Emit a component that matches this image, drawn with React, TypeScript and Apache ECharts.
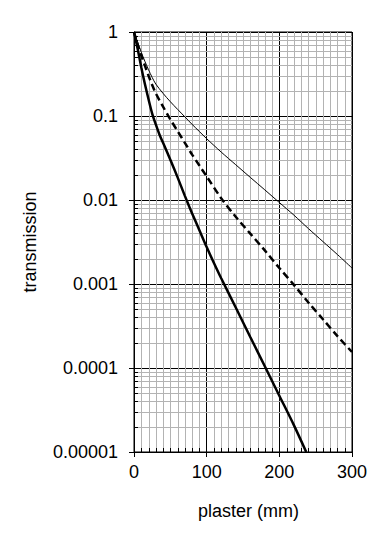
import React, { useEffect, useRef } from "react";
import * as echarts from "echarts";

// plaster thickness (mm)
const thinX = [0, 5, 10, 15, 20, 25, 30, 40, 50, 60, 70, 80, 90, 100, 120, 140, 160, 180, 200, 220, 240, 260, 280, 300];
const thinT = [1, 0.759, 0.575, 0.447, 0.355, 0.288, 0.24, 0.186, 0.148, 0.12, 0.0977, 0.0794, 0.0653, 0.0537, 0.0372, 0.0263, 0.0186, 0.0132, 0.00933, 0.00661, 0.00457, 0.0032, 0.00224, 0.00155];

const dashX = [0, 5, 10, 15, 20, 25, 30, 40, 50, 60, 70, 80, 90, 100, 120, 140, 160, 180, 200, 220, 240, 260, 280, 300];
const dashT = [1, 0.708, 0.525, 0.398, 0.302, 0.234, 0.186, 0.129, 0.0912, 0.0661, 0.0479, 0.0347, 0.0257, 0.0191, 0.0105, 0.00631, 0.00398, 0.00251, 0.00155, 0.000977, 0.000603, 0.00038, 0.00024, 0.000155];

const thickX = [0, 5, 10, 15, 20, 25, 30, 35, 40, 50, 60, 70, 80, 90, 100, 110, 120, 140, 160, 180, 200, 220, 237];
const thickT = [1, 0.631, 0.38, 0.24, 0.158, 0.107, 0.0794, 0.0603, 0.0479, 0.0302, 0.0186, 0.0112, 0.00692, 0.00437, 0.00275, 0.00178, 0.00117, 0.000525, 0.000234, 0.000105, 0.0000468, 0.0000209, 0.00001];

const yTickLabels = ["0.00001", "0.0001", "0.001", "0.01", "0.1", "1"];

const X_MIN = 0;
const X_MAX = 300;
const Y_MIN = 0.00001;
const Y_MAX = 1;

// minor grid positions (axis structure)
const minorX: number[] = [];
for (let v = X_MIN + 10; v < X_MAX; v += 10) if (v % 100 !== 0) minorX.push(v);
const minorY: number[] = [];
for (let e = -5; e < 0; e++) for (let m = 2; m <= 9; m++) minorY.push(m * Math.pow(10, e));

const GRAY = "#b3b3b3";
const FONT = "Liberation Sans, Arial, sans-serif";
const FS = 18;

export default function App() {
  const ref = useRef<HTMLDivElement>(null);
  useEffect(() => {
    if (!ref.current) return;
    const chart = echarts.init(ref.current, undefined, { renderer: "svg" });
    const zip = (xs: number[], ys: number[]) => xs.map((x, i) => [x, ys[i]]);
    chart.setOption({
      animation: false,
      backgroundColor: "#fff",
      grid: {
        left: 134,
        top: 32,
        width: 218,
        height: 420,
        show: true,
        borderColor: "#000",
        borderWidth: 1,
        backgroundColor: "transparent",
      },
      xAxis: {
        type: "value",
        min: X_MIN,
        max: X_MAX,
        interval: 100,
        name: "plaster (mm)",
        nameLocation: "middle",
        nameGap: 50,
        nameTextStyle: { fontFamily: FONT, fontSize: FS, color: "#000", padding: [0, 0, 0, 11] },
        axisLine: { lineStyle: { color: "#000", width: 1 } },
        axisTick: { show: true, length: 5, lineStyle: { color: "#000" } },
        axisLabel: { fontFamily: FONT, fontSize: FS, color: "#000", margin: 11 },
        splitLine: { show: true, lineStyle: { color: "#000", width: 1 } },
      },
      yAxis: {
        type: "log",
        logBase: 10,
        min: Y_MIN,
        max: Y_MAX,
        name: "transmission",
        nameLocation: "middle",
        nameGap: 95,
        nameTextStyle: { fontFamily: FONT, fontSize: FS, color: "#000" },
        axisLine: { show: true, lineStyle: { color: "#000", width: 1 } },
        axisTick: { show: true, length: 5, lineStyle: { color: "#000" } },
        axisLabel: {
          fontFamily: FONT,
          fontSize: FS,
          color: "#000",
          margin: 16,
          formatter: (v: number) => {
            const idx = Math.round(Math.log10(v)) + 5;
            return yTickLabels[idx] ?? "";
          },
        },
        splitLine: { show: true, lineStyle: { color: "#000", width: 1 } },
      },
      series: [
        {
          type: "custom",
          name: "minorY",
          z: 1,
          silent: true,
          data: minorY.map((v) => [X_MIN, v]),
          renderItem: (params: any, api: any) => {
            const p = api.coord([X_MIN, api.value(1)]);
            const cs = params.coordSys;
            const y = Math.round(p[1]) + 0.5;
            return {
              type: "group",
              children: [
                { type: "line", shape: { x1: cs.x, y1: y, x2: cs.x + cs.width, y2: y }, style: { stroke: GRAY, lineWidth: 1 } },
                { type: "line", shape: { x1: cs.x, y1: y, x2: cs.x + 4, y2: y }, style: { stroke: "#000", lineWidth: 1 } },
              ],
            };
          },
        },
        {
          type: "custom",
          name: "minorX",
          z: 1,
          silent: true,
          data: minorX.map((v) => [v, Y_MAX]),
          renderItem: (params: any, api: any) => {
            const p = api.coord([api.value(0), Y_MAX]);
            const cs = params.coordSys;
            const x = Math.round(p[0]) + 0.5;
            return {
              type: "group",
              children: [
                { type: "line", shape: { x1: x, y1: cs.y, x2: x, y2: cs.y + cs.height }, style: { stroke: GRAY, lineWidth: 1 } },
                { type: "line", shape: { x1: x, y1: cs.y + cs.height - 4, x2: x, y2: cs.y + cs.height }, style: { stroke: "#000", lineWidth: 1 } },
              ],
            };
          },
        },
        {
          type: "line",
          name: "thin",
          z: 3,
          data: zip(thinX, thinT),
          showSymbol: false,
          smooth: 0.3,
          lineStyle: { color: "#000", width: 1 },
        },
        {
          type: "line",
          name: "dashed",
          z: 3,
          data: zip(dashX, dashT),
          showSymbol: false,
          smooth: 0.3,
          lineStyle: { color: "#000", width: 2.5, type: [7, 4] },
        },
        {
          type: "line",
          name: "thick",
          z: 3,
          data: zip(thickX, thickT),
          showSymbol: false,
          smooth: 0.3,
          lineStyle: { color: "#000", width: 2.5 },
        },
      ],
    });
    return () => chart.dispose();
  }, []);
  return (
    <div
      ref={ref}
      style={{ position: "absolute", left: 0, top: 0, width: 386, height: 545, background: "#fff" }}
    />
  );
}
